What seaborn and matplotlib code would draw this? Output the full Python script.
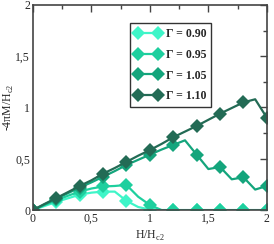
import numpy as np
import pandas as pd
import matplotlib
matplotlib.use("Agg")
import matplotlib.pyplot as plt
from matplotlib.lines import Line2D
import seaborn as sns

# data (H/Hc2 in steps of 0.1, markers every 0.2)
h = [0.0, 0.1, 0.2, 0.3, 0.4, 0.5, 0.6, 0.7, 0.8, 0.9, 1.0,
     1.1, 1.2, 1.3, 1.4, 1.5, 1.6, 1.7, 1.8, 1.9, 2.0]
m_090 = [0.0, 0.04, 0.08, 0.115, 0.15, 0.17, 0.18, 0.18, 0.09, 0.03, 0.005,
         0.0, 0.0, 0.0, 0.0, 0.0, 0.0, 0.0, 0.0, 0.0, 0.0]
m_095 = [0.0, 0.05, 0.095, 0.14, 0.18, 0.21, 0.23, 0.235, 0.245, 0.13, 0.05,
         0.0, 0.0, 0.0, 0.0, 0.0, 0.0, 0.0, 0.0, 0.0, 0.0]
m_105 = [0.0, 0.055, 0.11, 0.165, 0.22, 0.27, 0.325, 0.38, 0.44, 0.49, 0.54,
         0.59, 0.635, 0.68, 0.54, 0.40, 0.42, 0.30, 0.32, 0.20, 0.235]
m_110 = [0.0, 0.06, 0.117, 0.175, 0.235, 0.29, 0.355, 0.41, 0.47, 0.53, 0.585,
         0.645, 0.71, 0.765, 0.82, 0.88, 0.94, 0.995, 1.05, 1.08, 0.90]

labels = ["Γ = 0.90", "Γ = 0.95", "Γ = 1.05", "Γ = 1.10"]
colors = ["#3ff5c8", "#1ecf9e", "#14a57c", "#236b55"]
series = [m_090, m_095, m_105, m_110]

x_ticks = [0, 0.5, 1, 1.5, 2]
x_ticklabels = ["0", "0,5", "1", "1,5", "2"]
y_ticks = [0, 0.5, 1, 1.5, 2]
y_ticklabels = ["0", "0,5", "1", "1,5", "2"]

sns.set_style("white")
plt.rcParams["font.family"] = ["Liberation Serif", "DejaVu Serif"]
plt.rcParams["mathtext.fontset"] = "custom"
plt.rcParams["mathtext.rm"] = "Liberation Serif"

fig = plt.figure(figsize=(2.74, 2.44), dpi=100)
ax = fig.add_axes([0.120, 0.139, 0.854, 0.841])

for lab, col, vals in zip(labels, colors, series):
    df = pd.DataFrame({"h": h, "m": vals})
    sns.lineplot(data=df, x="h", y="m", ax=ax, color=col, lw=1.6,
                 marker="D", markersize=7, markeredgewidth=0,
                 markevery=2, legend=False)

ax.set_xlim(0, 2)
ax.set_ylim(0, 2)
ax.set_xticks(x_ticks)
ax.set_xticklabels(x_ticklabels)
ax.set_yticks(y_ticks)
ax.set_yticklabels(y_ticklabels)
ax.set_xticks(np.arange(0, 2.01, 0.25), minor=True)
ax.set_yticks(np.arange(0, 2.01, 0.25), minor=True)
ax.tick_params(which="both", direction="in", top=True, right=True,
               labelsize=8.5, pad=2, color="#444444")
ax.tick_params(which="major", length=5, width=1)
ax.tick_params(which="minor", length=3, width=1)
for s in ax.spines.values():
    s.set_color("#444444")
    s.set_linewidth(1.2)

ax.set_xlabel(r"H/H$_{\rm c2}$", fontsize=8.5, labelpad=3)
ax.set_ylabel(r"-4πM/H$_{\rm c2}$", fontsize=8.5)
ax.yaxis.set_label_coords(-0.072, 0.5)

handles = [Line2D([], [], color=c, lw=1.6, marker="D", markersize=7,
                  markeredgewidth=0) for c in colors]
leg = ax.legend(handles, labels, loc="upper left", bbox_to_anchor=(0.415, 0.911),
                numpoints=2, handlelength=2.3, handletextpad=0.35,
                labelspacing=0.75, borderpad=0.4, borderaxespad=0,
                fancybox=False, frameon=True, prop={"size": 8.5, "weight": "bold"})
leg.get_frame().set_edgecolor("black")
leg.get_frame().set_linewidth(1.0)

fig.savefig("out.png", dpi=100)
